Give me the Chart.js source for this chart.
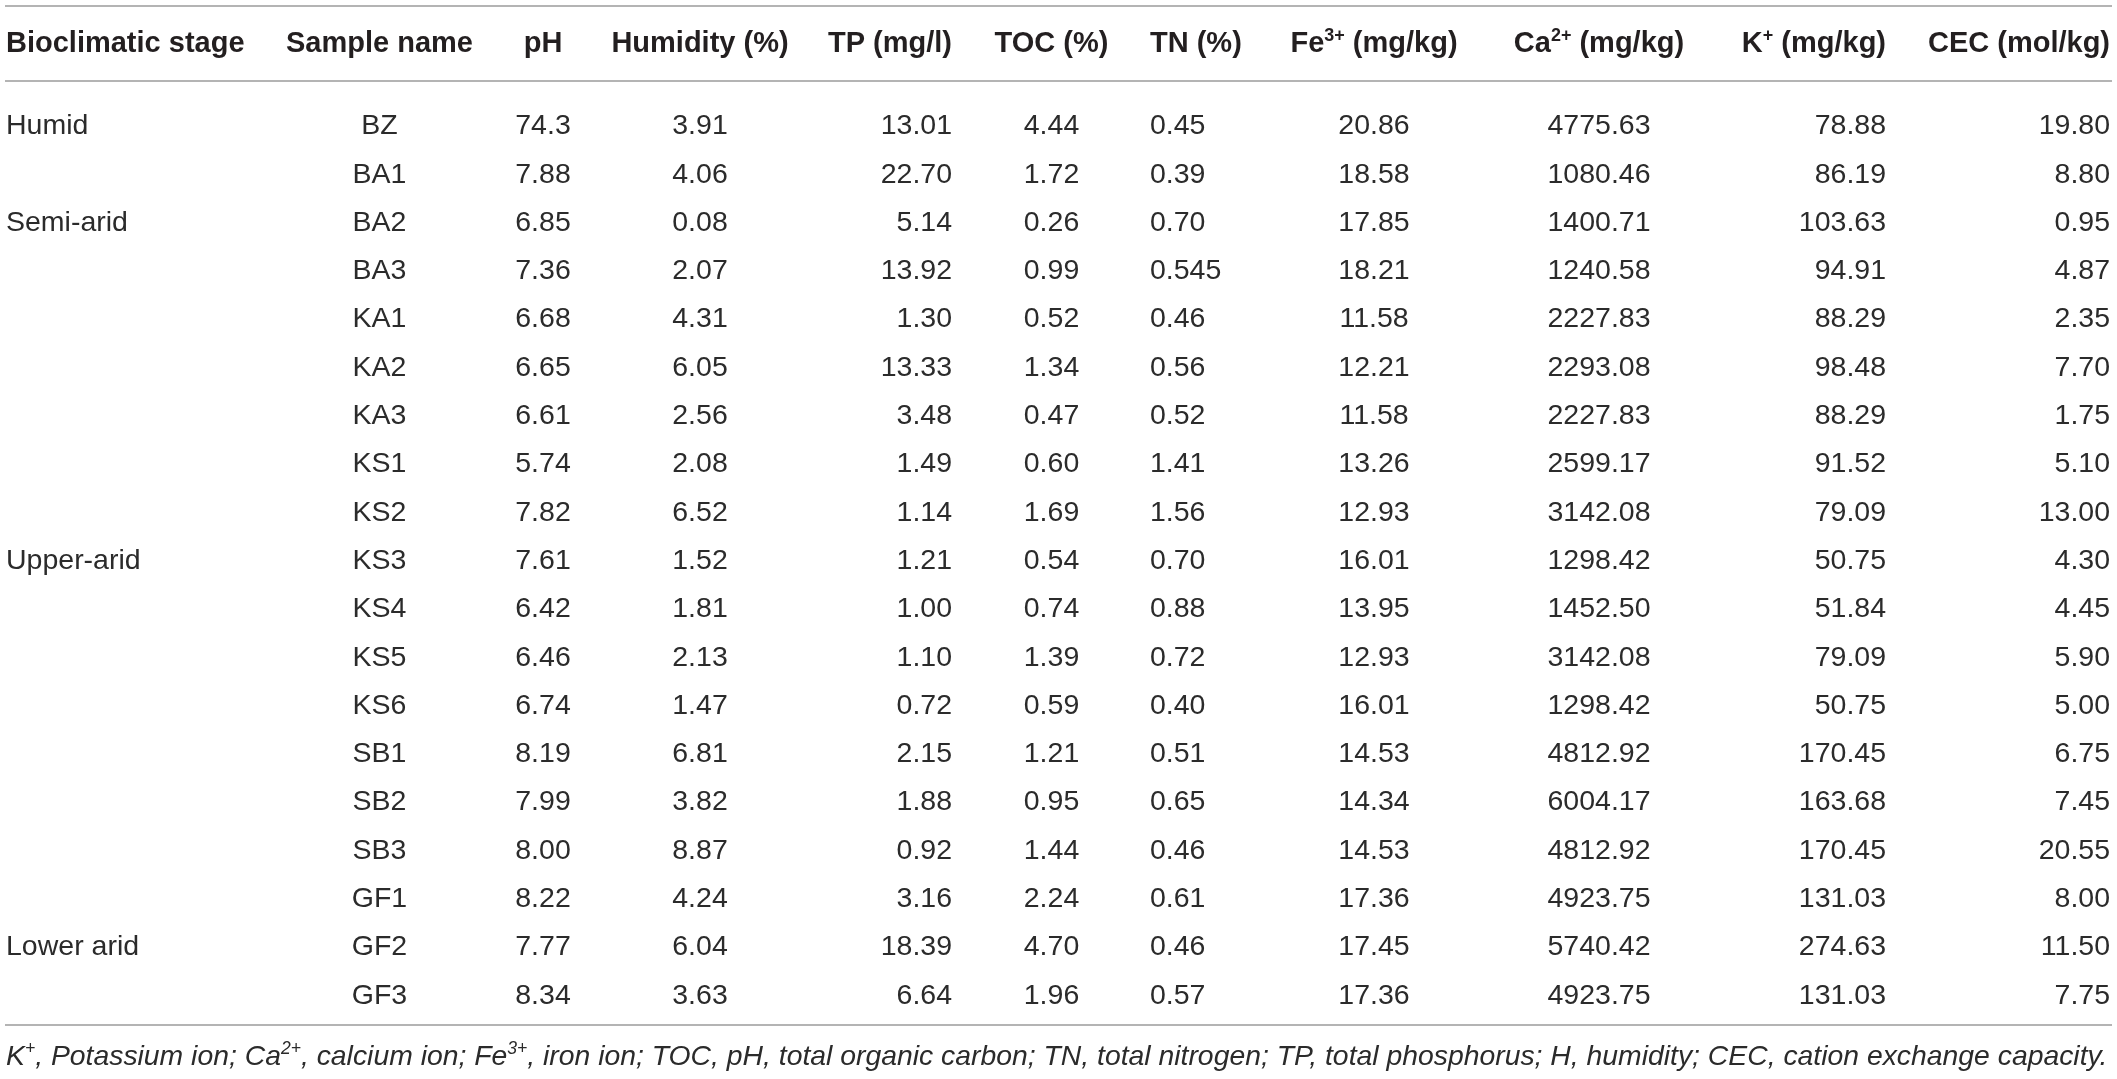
<!DOCTYPE html>
<html>
<head>
<meta charset="utf-8">
<script src="https://cdn.jsdelivr.net/npm/chart.js@4"></script>
<style>
  html, body { margin: 0; padding: 0; background: #fff; }
  #wrap { width: 2117px; height: 1079px; }
</style>
</head>
<body>
<div id="wrap"><canvas id="myChart"></canvas></div>
<script>
// table data, one array per column
const headers = [
  [['Bioclimatic stage']],
  [['Sample name']],
  [['pH']],
  [['Humidity (%)']],
  [['TP (mg/l)']],
  [['TOC (%)']],
  [['TN (%)']],
  [['Fe'], ['3+', 1], [' (mg/kg)']],
  [['Ca'], ['2+', 1], [' (mg/kg)']],
  [['K'], ['+', 1], [' (mg/kg)']],
  [['CEC (mol/kg)']]
];
const stages = ['Humid', '', 'Semi-arid', '', '', '', '', '', '', 'Upper-arid', '', '', '', '', '', '', '', 'Lower arid', ''];
const samples = ['BZ', 'BA1', 'BA2', 'BA3', 'KA1', 'KA2', 'KA3', 'KS1', 'KS2', 'KS3', 'KS4', 'KS5', 'KS6', 'SB1', 'SB2', 'SB3', 'GF1', 'GF2', 'GF3'];
const pH = ['74.3', '7.88', '6.85', '7.36', '6.68', '6.65', '6.61', '5.74', '7.82', '7.61', '6.42', '6.46', '6.74', '8.19', '7.99', '8.00', '8.22', '7.77', '8.34'];
const humidity = ['3.91', '4.06', '0.08', '2.07', '4.31', '6.05', '2.56', '2.08', '6.52', '1.52', '1.81', '2.13', '1.47', '6.81', '3.82', '8.87', '4.24', '6.04', '3.63'];
const tp = ['13.01', '22.70', '5.14', '13.92', '1.30', '13.33', '3.48', '1.49', '1.14', '1.21', '1.00', '1.10', '0.72', '2.15', '1.88', '0.92', '3.16', '18.39', '6.64'];
const toc = ['4.44', '1.72', '0.26', '0.99', '0.52', '1.34', '0.47', '0.60', '1.69', '0.54', '0.74', '1.39', '0.59', '1.21', '0.95', '1.44', '2.24', '4.70', '1.96'];
const tn = ['0.45', '0.39', '0.70', '0.545', '0.46', '0.56', '0.52', '1.41', '1.56', '0.70', '0.88', '0.72', '0.40', '0.51', '0.65', '0.46', '0.61', '0.46', '0.57'];
const fe = ['20.86', '18.58', '17.85', '18.21', '11.58', '12.21', '11.58', '13.26', '12.93', '16.01', '13.95', '12.93', '16.01', '14.53', '14.34', '14.53', '17.36', '17.45', '17.36'];
const ca = ['4775.63', '1080.46', '1400.71', '1240.58', '2227.83', '2293.08', '2227.83', '2599.17', '3142.08', '1298.42', '1452.50', '3142.08', '1298.42', '4812.92', '6004.17', '4812.92', '4923.75', '5740.42', '4923.75'];
const kIon = ['78.88', '86.19', '103.63', '94.91', '88.29', '98.48', '88.29', '91.52', '79.09', '50.75', '51.84', '79.09', '50.75', '170.45', '163.68', '170.45', '131.03', '274.63', '131.03'];
const cec = ['19.80', '8.80', '0.95', '4.87', '2.35', '7.70', '1.75', '5.10', '13.00', '4.30', '4.45', '5.90', '5.00', '6.75', '7.45', '20.55', '8.00', '11.50', '7.75'];
const footnote = [['K'], ['+', 1], [', Potassium ion; Ca'], ['2+', 1], [', calcium ion; Fe'], ['3+', 1],
  [', iron ion; TOC, pH, total organic carbon; TN, total nitrogen; TP, total phosphorus; H, humidity; CEC, cation exchange capacity.']];

const columns = [stages, samples, pH, humidity, tp, toc, tn, fe, ca, kIon, cec];

// layout: where each column is anchored (x units) and how it is aligned
const colAnchor = [6, 379.5, 543, 700, 952, 1051.5, 1150, 1374, 1599, 1886, 2110];
const aligns = ['left', 'center', 'center', 'center', 'right', 'center', 'left', 'center', 'center', 'right', 'right'];
const tableLeft = 6, tableRight = 2112;

const FONT = '"Liberation Sans", Arial, Helvetica, sans-serif';

function segFont(size, weight, style, sup) {
  return `${style} ${weight} ${sup ? size * 0.62 : size}px ${FONT}`;
}

function richWidth(ctx, segs, size, weight, style) {
  let w = 0;
  segs.forEach(s => {
    ctx.font = segFont(size, weight, style, s[1]);
    w += ctx.measureText(s[0]).width;
  });
  return w;
}

function drawRich(ctx, segs, x, y, align, size, weight, style) {
  const w = richWidth(ctx, segs, size, weight, style);
  let cx = align === 'left' ? x : align === 'right' ? x - w : x - w / 2;
  ctx.textAlign = 'left';
  ctx.textBaseline = 'alphabetic';
  segs.forEach(s => {
    ctx.font = segFont(size, weight, style, s[1]);
    ctx.fillText(s[0], cx, s[1] ? y - size * 0.4 : y);
    cx += ctx.measureText(s[0]).width;
  });
}

const tablePlugin = {
  id: 'tablePlugin',
  afterDraw(chart) {
    const { ctx, scales: { x, y } } = chart;
    const headSize = 29, bodySize = 28.5;

    ctx.save();
    // horizontal rules
    ctx.strokeStyle = '#b4b4b4';
    ctx.lineWidth = 2;
    [-2.443, -0.89, 18.654].forEach(r => {
      const py = Math.round(y.getPixelForValue(r));
      ctx.beginPath();
      ctx.moveTo(x.getPixelForValue(tableLeft - 1), py);
      ctx.lineTo(x.getPixelForValue(tableRight), py);
      ctx.stroke();
    });

    // header row
    ctx.fillStyle = '#231f20';
    const hy = y.getPixelForValue(-1.698) + headSize * 0.36;
    headers.forEach((h, i) => drawRich(ctx, h, x.getPixelForValue(colAnchor[i]), hy, aligns[i], headSize, 'bold', 'normal'));

    // body rows
    ctx.fillStyle = '#2b2b2b';
    columns.forEach((col, i) => {
      col.forEach((v, r) => {
        if (!v) return;
        const py = y.getPixelForValue(r) + bodySize * 0.36;
        drawRich(ctx, [[v]], x.getPixelForValue(colAnchor[i]), py, aligns[i], bodySize, 'normal', 'normal');
      });
    });

    // footnote, sized to span the table width
    let fs = 28;
    const fw = richWidth(ctx, footnote, fs, 'normal', 'italic');
    fs = fs * (tableRight - tableLeft - 4) / fw;
    drawRich(ctx, footnote, x.getPixelForValue(tableLeft), y.getPixelForValue(19.275) + fs * 0.36, 'left', fs, 'normal', 'italic');
    ctx.restore();
  }
};

new Chart(document.getElementById('myChart'), {
  type: 'scatter',
  data: { datasets: [] },
  options: {
    responsive: true,
    maintainAspectRatio: false,
    animation: false,
    events: [],
    layout: { padding: 0 },
    plugins: { legend: { display: false }, tooltip: { enabled: false } },
    scales: {
      x: { type: 'linear', display: false, min: 0, max: 2117 },
      y: { type: 'linear', display: false, min: -2.567, max: 19.773, reverse: true }
    }
  },
  plugins: [tablePlugin]
});
</script>
</body>
</html>
